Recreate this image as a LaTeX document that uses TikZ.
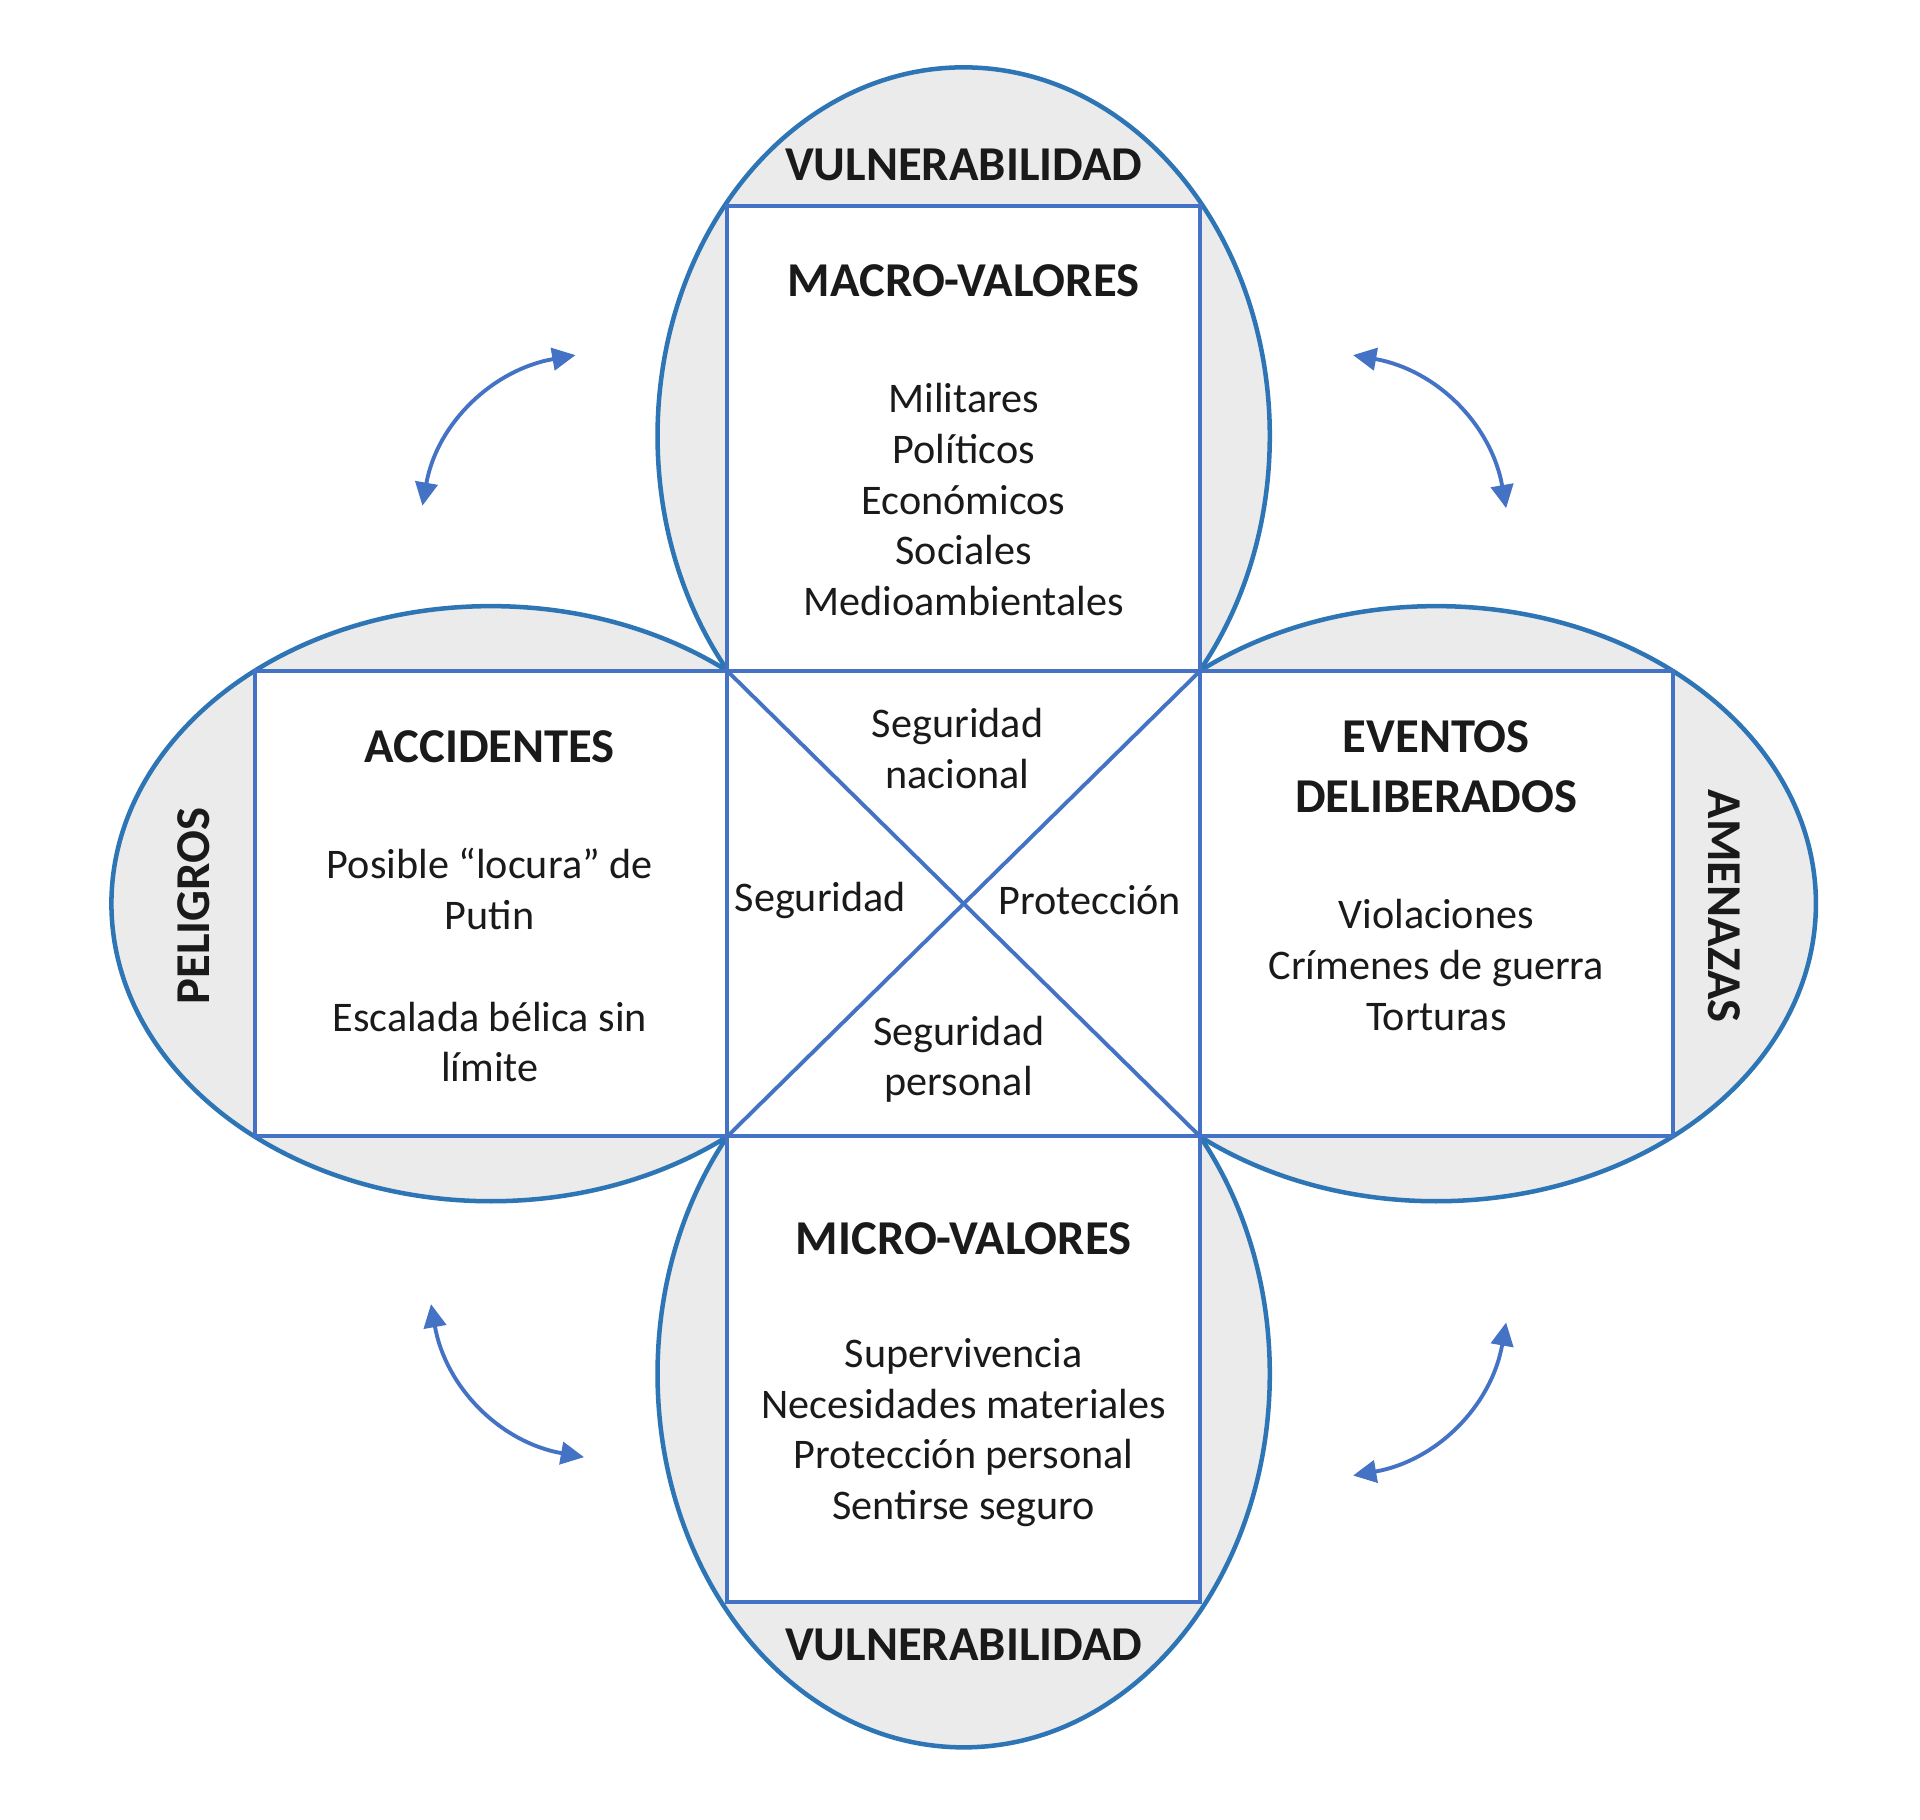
\documentclass[tikz,border=0pt]{standalone}
\usepackage{fontspec}
\setmainfont{Carlito}
\usetikzlibrary{arrows.meta}

\definecolor{ringblue}{HTML}{2E75B6}
\definecolor{boxblue}{HTML}{4472C4}
\definecolor{ringgray}{HTML}{EBEBEB}
\definecolor{txt}{HTML}{1A1A1A}

\tikzset{
    ring/.style = {draw=ringblue, line width=1.05pt, fill=ringgray},
    box/.style = {rectangle, draw=boxblue, line width=0.9pt, fill=white,
                  minimum width=3.86cm, minimum height=3.80cm, inner sep=0pt},
    head/.style = {font=\fontsize{11.3}{13.9}\selectfont\bfseries, align=center, text=txt},
    body/.style = {font=\fontsize{9.8}{11.8}\selectfont, align=center, text=txt},
    swing/.style = {draw=boxblue, line width=0.9pt,
                    {Triangle[length=5.4pt,width=5.2pt]}-{Triangle[length=5.4pt,width=5.2pt]}}
}

\begin{document}
\begin{tikzpicture}

            %\draw [help lines] (-8,-8) grid (8,8);
            \useasboundingbox (-7.87,-7.48) rectangle (7.81,7.38);

            % the four petals
            \path[ring] (0,3.82) ellipse [x radius=2.50, y radius=3.01];
            \path[ring] (0,-3.84) ellipse [x radius=2.50, y radius=3.05];
            \path[ring] (-3.86,0) ellipse [x radius=3.10, y radius=2.43];
            \path[ring] (3.86,0) ellipse [x radius=3.10, y radius=2.43];

            \path   (0,0)     node (mid)   [box] {}
                    (0,3.80)  node (macro) [box] {}
                    (0,-3.80) node (micro) [box] {}
                    (-3.86,0) node (acc)   [box] {}
                    (3.86,0)  node (evt)   [box] {};

            \draw[boxblue, line width=0.9pt] (mid.north west) -- (mid.south east);
            \draw[boxblue, line width=0.9pt] (mid.north east) -- (mid.south west);

            % texts
            \path   (0,6.03)    node (vultop) [head] {VULNERABILIDAD}
                    (0,5.09)    node (macrot) [head] {MACRO-VALORES}
                    (0,3.30)    node (macrol) [body] {Militares\\Políticos\\Económicos\\Sociales\\Medioambientales}
                    (0,-2.74)   node (microt) [head] {MICRO-VALORES}
                    (0,-4.32)   node (microl) [body] {Supervivencia\\Necesidades materiales\\Protección personal\\Sentirse seguro}
                    (0,-6.05)   node (vulbot) [head] {VULNERABILIDAD}
                    (-3.87,1.28) node (acct)  [head] {ACCIDENTES}
                    (-3.87,0.12) node (accl1) [body] {Posible “locura” de\\Putin}
                    (-3.87,-1.13) node (accl2) [body] {Escalada bélica sin\\límite}
                    (-6.29,-0.02) node (pel)  [head, rotate=90] {PELIGROS}
                    (3.86,1.12)  node (evtt)  [head] {EVENTOS\\DELIBERADOS}
                    (3.86,-0.50) node (evtl)  [body] {Violaciones\\Crímenes de guerra\\Torturas}
                    (6.21,-0.02) node (ame)   [head, rotate=-90] {AMENAZAS}
                    (-0.05,1.27) node (segnac) [body] {Seguridad\\nacional}
                    (-1.17,0.03) node (seg)   [body] {Seguridad}
                    (1.03,0.03)  node (prot)  [body] {Protección}
                    (-0.04,-1.27) node (segper) [body] {Seguridad\\personal};

            % curved arrows in the corners
            \coordinate (tl1) at (-4.42,3.25);
            \coordinate (tl2) at (-3.17,4.48);
            \coordinate (tr1) at (4.43,3.23);
            \coordinate (tr2) at (3.18,4.48);
            \coordinate (bl1) at (-4.35,-3.27);
            \coordinate (bl2) at (-3.10,-4.52);
            \coordinate (br1) at (4.43,-3.42);
            \coordinate (br2) at (3.18,-4.67);

            \draw[swing] (tl1) to[out=80, in=190] (tl2);
            \draw[swing] (tr1) to[out=100, in=-10] (tr2);
            \draw[swing] (bl1) to[out=-80, in=170] (bl2);
            \draw[swing] (br1) to[out=-100, in=10] (br2);
        \end{tikzpicture}
\end{document}
